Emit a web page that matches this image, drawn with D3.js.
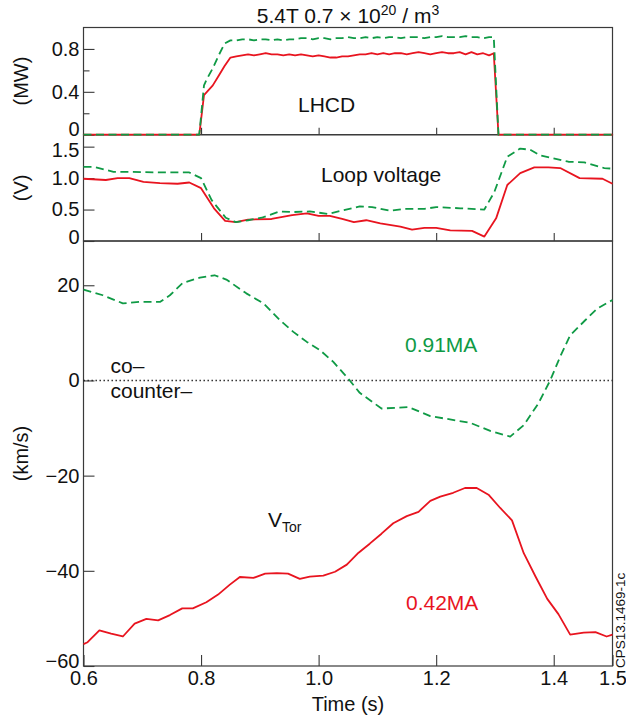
<!DOCTYPE html>
<html>
<head>
<meta charset="utf-8">
<script src="https://cdn.jsdelivr.net/npm/d3@7/dist/d3.min.js"></script>
<style>
  html, body { margin: 0; padding: 0; background: #fff; }
  svg text { font-family: "Liberation Sans", Arial, Helvetica, sans-serif; fill: #111; }
</style>
</head>
<body>
<svg id="chart" width="626" height="719"></svg>
<script>
// ---------------- DATA ----------------
// LHCD power (MW)
const lhcdTime = [0.600, 0.797, 0.805, 0.810, 0.820, 0.830, 0.840, 0.850, 0.860, 0.870, 0.880, 0.890, 0.900,
  0.910, 0.920, 0.930, 0.940, 0.950, 0.960, 0.970, 0.980, 0.990, 1.000, 1.010, 1.020, 1.030, 1.040, 1.050,
  1.060, 1.070, 1.080, 1.090, 1.100, 1.110, 1.120, 1.130, 1.140, 1.150, 1.160, 1.170, 1.180, 1.190, 1.200,
  1.210, 1.220, 1.230, 1.240, 1.250, 1.260, 1.270, 1.280, 1.290, 1.298, 1.306, 1.500];
const lhcdRed = [0, 0, 0.37, 0.40, 0.46, 0.55, 0.64, 0.72, 0.73, 0.74, 0.75, 0.74, 0.75,
  0.76, 0.75, 0.75, 0.74, 0.75, 0.74, 0.75, 0.74, 0.73, 0.74, 0.73, 0.72, 0.72, 0.73, 0.73,
  0.74, 0.75, 0.75, 0.76, 0.75, 0.76, 0.75, 0.76, 0.76, 0.75, 0.76, 0.77, 0.76, 0.75, 0.76,
  0.77, 0.76, 0.76, 0.77, 0.75, 0.77, 0.75, 0.76, 0.74, 0.76, 0, 0];
const lhcdGreen = [0, 0, 0.46, 0.52, 0.62, 0.74, 0.85, 0.88, 0.88, 0.89, 0.89, 0.88, 0.89,
  0.89, 0.88, 0.89, 0.88, 0.89, 0.89, 0.90, 0.90, 0.89, 0.90, 0.90, 0.89, 0.90, 0.90, 0.91,
  0.90, 0.90, 0.91, 0.90, 0.91, 0.90, 0.91, 0.91, 0.90, 0.91, 0.91, 0.91, 0.90, 0.91, 0.91,
  0.92, 0.91, 0.91, 0.91, 0.92, 0.91, 0.91, 0.90, 0.91, 0.91, 0, 0];

// Loop voltage (V)
const loopRedTime = [0.600, 0.638, 0.658, 0.678, 0.702, 0.730, 0.760, 0.780, 0.800, 0.822, 0.841, 0.859, 0.880,
  0.920, 0.955, 0.980, 1.000, 1.019, 1.040, 1.060, 1.081, 1.105, 1.139, 1.159, 1.180, 1.200, 1.224, 1.261,
  1.282, 1.302, 1.321, 1.343, 1.367, 1.391, 1.411, 1.444, 1.483, 1.500];
const loopRed = [0.99, 0.97, 1.00, 1.00, 0.94, 0.92, 0.91, 0.93, 0.84, 0.52, 0.32, 0.30, 0.34,
  0.35, 0.41, 0.44, 0.40, 0.40, 0.35, 0.30, 0.33, 0.28, 0.23, 0.18, 0.21, 0.21, 0.17, 0.16,
  0.07, 0.36, 0.89, 1.08, 1.17, 1.17, 1.16, 1.00, 0.99, 0.91];
const loopGreenTime = [0.600, 0.617, 0.651, 0.678, 0.730, 0.780, 0.800, 0.818, 0.842, 0.859, 0.880, 0.903,
  0.934, 0.955, 0.985, 1.016, 1.043, 1.070, 1.091, 1.122, 1.145, 1.180, 1.200, 1.241, 1.282, 1.299, 1.321,
  1.343, 1.360, 1.377, 1.397, 1.425, 1.452, 1.486, 1.500];
const loopGreen = [1.18, 1.18, 1.10, 1.10, 1.09, 1.09, 1.00, 0.65, 0.37, 0.30, 0.33, 0.37,
  0.47, 0.46, 0.47, 0.43, 0.49, 0.55, 0.54, 0.48, 0.51, 0.51, 0.54, 0.52, 0.50, 0.78, 1.34,
  1.47, 1.45, 1.36, 1.32, 1.26, 1.25, 1.16, 1.15];

// Toroidal rotation (km/s)
const vtorGreenTime = [0.600, 0.633, 0.667, 0.695, 0.730, 0.747, 0.769, 0.798, 0.823, 0.843, 0.877, 0.906,
  0.934, 0.957, 0.980, 1.002, 1.025, 1.053, 1.070, 1.107, 1.153, 1.190, 1.258, 1.292, 1.326, 1.349, 1.374,
  1.394, 1.411, 1.428, 1.454, 1.474, 1.500];
const vtorGreen = [19.1, 17.9, 16.2, 16.5, 16.5, 17.9, 20.5, 21.6, 22.1, 21.2, 18.3, 16.2,
  12.7, 10.2, 8.1, 6.4, 3.9, 0.0, -2.6, -5.9, -5.6, -7.5, -8.9, -10.6, -11.8, -9.4, -4.8,
  0.0, 5.0, 9.5, 12.7, 15.1, 16.9];
const vtorRedTime = [0.600, 0.607, 0.627, 0.647, 0.667, 0.687, 0.707, 0.727, 0.747, 0.768, 0.786, 0.809,
  0.829, 0.849, 0.866, 0.889, 0.909, 0.929, 0.948, 0.968, 0.985, 1.008, 1.028, 1.048, 1.068, 1.087, 1.107,
  1.127, 1.150, 1.170, 1.190, 1.207, 1.229, 1.249, 1.269, 1.289, 1.309, 1.329, 1.349, 1.369, 1.389, 1.408,
  1.428, 1.451, 1.471, 1.490, 1.500];
const vtorRed = [-55.4, -55.0, -52.5, -53.2, -53.8, -51.1, -50.1, -50.4, -49.3, -47.9, -47.9, -46.6,
  -45.0, -42.9, -41.3, -41.5, -40.6, -40.5, -40.6, -41.7, -41.2, -41.0, -40.2, -38.7, -36.2, -34.3, -32.2,
  -30.0, -28.5, -27.6, -25.3, -24.4, -23.6, -22.6, -22.6, -24.0, -26.8, -29.4, -36.3, -41.2, -45.9, -49.1,
  -53.4, -53.0, -52.9, -53.8, -53.4];

// Ticks
const xTicksInner = [0.8, 1.0, 1.2, 1.4];
const xTickLabels = [0.6, 0.8, 1.0, 1.2, 1.4, 1.5];
const lhcdTicks = [0, 0.4, 0.8];
const lhcdMinorTicks = [0.2, 0.6];
const loopTicks = [0, 0.5, 1.0, 1.5];
const vtorTicks = [-60, -40, -20, 0, 20];

// ---------------- CHART ----------------
const RED = "#e8141f";
const GREEN = "#0f9a45";
const AXIS = "#3a3a3a";
const svg = d3.select("#chart");

const left = 83.5, right = 612.5;
const x = d3.scaleLinear().domain([0.6, 1.5]).range([left, right]);

const panels = {
  top: { y0: 27.5, y1: 134.7, domain: [0, 1.0] },
  mid: { y0: 134.7, y1: 241, domain: [0, 1.69] },
  bot: { y0: 241, y1: 666, domain: [-60, 29.3] }
};
const yTop = d3.scaleLinear().domain(panels.top.domain).range([panels.top.y1, panels.top.y0]);
const yMid = d3.scaleLinear().domain(panels.mid.domain).range([panels.mid.y1, panels.mid.y0]);
const yBot = d3.scaleLinear().domain(panels.bot.domain).range([panels.bot.y1, panels.bot.y0]);

function fmtY(v) { return v === 0 ? "0" : d3.format(".1f")(v); }

function styleAxis(g, fs) {
  g.select(".domain").remove();
  g.selectAll(".tick line").attr("stroke", AXIS).attr("stroke-width", 1.1);
  g.selectAll(".tick text").style("font-size", fs + "px").attr("fill", "#111")
    .style("font-family", '"Liberation Sans", Arial, sans-serif');
}

// Y axes (end labels of each panel nudged inward a little, as in the reference)
function yAxis(scale, ticks, fmt, len, liftLow, dropHigh) {
  const g = svg.append("g").attr("transform", `translate(${left},0)`)
    .call(d3.axisLeft(scale).tickValues(ticks).tickFormat(fmt).tickSize(-len).tickPadding(4));
  styleAxis(g, 20);
  const lo = d3.min(ticks), hi = d3.max(ticks);
  g.selectAll(".tick").filter(d => d === lo).select("text").attr("y", -liftLow);
  g.selectAll(".tick").filter(d => d === hi).select("text").attr("y", dropHigh);
  return g;
}
yAxis(yTop, lhcdTicks, fmtY, 11, 6, 0);
svg.append("g").attr("transform", `translate(${left},0)`)
  .call(d3.axisLeft(yTop).tickValues(lhcdMinorTicks).tickFormat("").tickSize(-6))
  .call(g => styleAxis(g, 20));
yAxis(yMid, loopTicks, fmtY, 11, 4, 3.5);
yAxis(yBot, vtorTicks, d3.format("d"), 11, 5, 0);

// X tick marks on each panel bottom
function xTicks(yPos, len) {
  svg.append("g").attr("transform", `translate(0,${yPos})`)
    .call(d3.axisBottom(x).tickValues(xTicksInner).tickFormat("").tickSize(-len))
    .call(g => styleAxis(g, 20));
}
xTicks(panels.top.y1, 7);
xTicks(panels.mid.y1, 8);
svg.append("g").attr("transform", `translate(0,${panels.bot.y1})`)
  .call(d3.axisBottom(x).tickValues(xTickLabels).tickFormat(d3.format(".1f")).tickSize(-11).tickPadding(5))
  .call(g => styleAxis(g, 20));

// Frames
Object.values(panels).forEach(p => {
  svg.append("rect").attr("x", left).attr("y", p.y0)
    .attr("width", right - left).attr("height", p.y1 - p.y0)
    .attr("fill", "none").attr("stroke", AXIS).attr("stroke-width", 1.2);
});

// Zero dotted line in bottom panel
svg.append("line").attr("x1", left).attr("x2", right)
  .attr("y1", yBot(0)).attr("y2", yBot(0))
  .attr("stroke", "#222").attr("stroke-width", 1.4).attr("stroke-dasharray", "1.4,2.6");

// Lines
function drawLine(ts, vs, yScale, color, dashed) {
  const pts = ts.map((t, i) => [t, vs[i]]);
  svg.append("path").datum(pts)
    .attr("d", d3.line().x(d => x(d[0])).y(d => yScale(d[1])))
    .attr("fill", "none").attr("stroke", color).attr("stroke-width", 1.8)
    .attr("stroke-linejoin", "round")
    .attr("stroke-dasharray", dashed ? "8,4.5" : null);
}
drawLine(lhcdTime, lhcdRed, yTop, RED, false);
drawLine(lhcdTime, lhcdGreen, yTop, GREEN, true);
drawLine(loopRedTime, loopRed, yMid, RED, false);
drawLine(loopGreenTime, loopGreen, yMid, GREEN, true);
drawLine(vtorGreenTime, vtorGreen, yBot, GREEN, true);
drawLine(vtorRedTime, vtorRed, yBot, RED, false);

// ---------------- TEXT ----------------
const title = svg.append("text").attr("x", (left + right) / 2).attr("y", 22.5)
  .attr("text-anchor", "middle").style("font-size", "21px");
title.append("tspan").text("5.4T 0.7 × 10");
title.append("tspan").text("20").attr("dy", -8).style("font-size", "14px");
title.append("tspan").text(" / m").attr("dy", 8);
title.append("tspan").text("3").attr("dy", -8).style("font-size", "14px");

function yLabel(txt, cy) {
  svg.append("text").attr("transform", `translate(28,${cy}) rotate(-90)`)
    .attr("text-anchor", "middle").style("font-size", "20px").text(txt);
}
yLabel("(MW)", (panels.top.y0 + panels.top.y1) / 2);
yLabel("(V)", (panels.mid.y0 + panels.mid.y1) / 2);
yLabel("(km/s)", (panels.bot.y0 + panels.bot.y1) / 2);

svg.append("text").attr("x", (left + right) / 2).attr("y", 711)
  .attr("text-anchor", "middle").style("font-size", "20px").text("Time (s)");

function ann(txt, xx, yy, color) {
  return svg.append("text").attr("x", xx).attr("y", yy).style("font-size", "21px")
    .attr("fill", color || "#111").style("fill", color || "#111").text(txt);
}
ann("LHCD", 298, 111.5);
ann("Loop voltage", 321, 182);
ann("co–", 110.5, 372.5);
ann("counter–", 110.5, 398);
ann("0.91MA", 405, 351.5, GREEN);
ann("0.42MA", 406, 610, RED);
const vt = ann("V", 268, 526.5);
vt.append("tspan").text("Tor").attr("dy", 5).style("font-size", "14px");

svg.append("text").attr("transform", "translate(624.5,668) rotate(-90)")
  .attr("text-anchor", "start").style("font-size", "13.5px").text("CPS13.1469-1c");
</script>
</body>
</html>
